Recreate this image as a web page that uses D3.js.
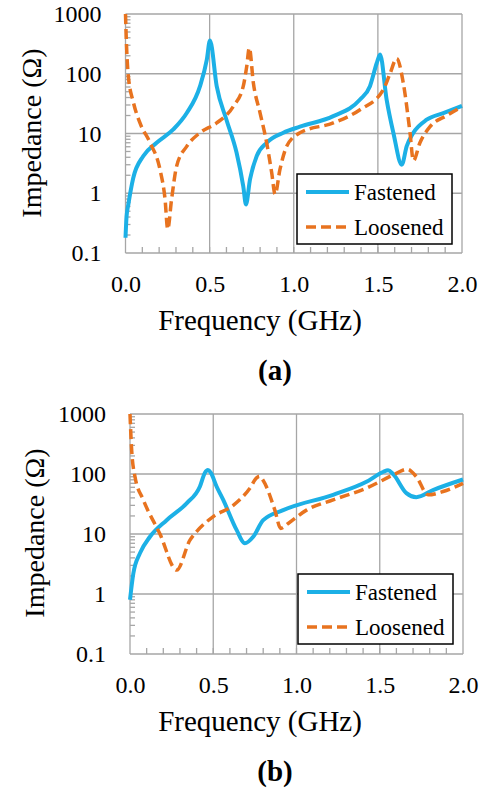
<!DOCTYPE html>
<html>
<head>
<meta charset="utf-8">
<script src="https://cdn.jsdelivr.net/npm/d3@7"></script>
<style>
  body { margin: 0; background: #fff; }
  .grid line { stroke: #a6a6a6; stroke-width: 1.3; }
  .axis path { display: none; }
  .axis text { font-size: 24px; fill: #000; }
</style>
</head>
<body>
<script>
var freqTicks = [0, 0.5, 1, 1.5, 2];
var impTicks = [0.1, 1, 10, 100, 1000];
var seriesNames = ["Fastened", "Loosened"];
var panelLabels = ["(a)", "(b)"];

// [frequency GHz, impedance ohm]
var aFastened = [[0,0.18],[0.006,0.4],[0.017,0.65],[0.046,1.8],[0.106,4.2],[0.185,7],[0.284,11.7],[0.364,22],[0.443,62],
  [0.483,170],[0.502,360],[0.542,62],[0.6,17],[0.66,4.8],[0.7,1.3],[0.716,0.65],[0.74,1.7],[0.78,4.2],[0.839,7],
  [0.938,10.3],[1.037,13],[1.235,19.5],[1.394,37],[1.453,62],[1.493,150],[1.513,210],[1.552,37],[1.592,10.3],
  [1.642,3.0],[1.671,6.1],[1.711,10.3],[1.79,17],[1.889,22],[2.0,29]];
var aLoosened = [[0,1000],[0.006,300],[0.017,90],[0.046,34],[0.086,15],[0.146,7],[0.205,2.5],[0.235,0.8],[0.251,0.25],
  [0.274,0.8],[0.304,2.85],[0.364,6.1],[0.443,10.3],[0.542,15],[0.641,28.5],[0.7,62],[0.72,130],[0.736,270],[0.76,70],
  [0.8,22],[0.839,7],[0.869,2.2],[0.889,0.96],[0.918,2.5],[0.958,6.1],[1.037,10.3],[1.235,15],[1.394,25],[1.532,54],
  [1.572,100],[1.612,180],[1.651,70],[1.691,10.3],[1.711,3.5],[1.75,7],[1.81,13],[1.91,20],[2.0,28]];
var bFastened = [[0,0.8],[0.02,2.2],[0.06,4.8],[0.12,9],[0.22,17],[0.34,32.5],[0.42,62],[0.45,105],[0.468,117],
  [0.485,105],[0.52,62],[0.56,37],[0.64,11.7],[0.69,7],[0.74,9],[0.8,17],[0.92,25],[1.22,45],[1.42,74],[1.52,108],
  [1.55,115],[1.58,100],[1.66,48],[1.72,41],[1.82,54],[2.0,81]];
var bLoosened = [[0,1000],[0.01,250],[0.03,90],[0.08,37],[0.18,10],[0.28,2.5],[0.36,7.9],[0.4,11],[0.5,19.5],
  [0.62,30],[0.72,58],[0.76,86],[0.778,92],[0.8,78],[0.87,25],[0.905,12.4],[0.95,15],[1.06,25],[1.22,37],[1.42,58],
  [1.58,96],[1.665,120],[1.72,90],[1.79,45],[1.88,51],[2.0,70]];

var colors = ["#1cb0e6", "#e8731f"];
var serif = "'Liberation Serif', 'DejaVu Serif', serif";

var svg = d3.select("body").append("svg")
    .attr("width", 482)
    .attr("height", 791)
    .attr("font-family", serif);

var panels = [
  {left: 125.5, top: 14, width: 336.5, height: 239, series: [aFastened, aLoosened], legend: [297, 174], ytitle: 41},
  {left: 130, top: 414, width: 333, height: 240, series: [bFastened, bLoosened], legend: [298, 574], ytitle: 44}
];

panels.forEach(function(p, pi) {
  var g = svg.append("g").attr("transform", "translate(" + p.left + "," + p.top + ")");

  var x = d3.scaleLinear().domain([0, 2]).range([0, p.width]);
  var y = d3.scaleLog().domain([0.1, 1000]).range([p.height, 0]);

  // grid
  g.append("g").attr("class", "grid")
    .selectAll("line.h").data(impTicks).enter().append("line")
    .attr("x1", 0).attr("x2", p.width)
    .attr("y1", function(d) { return y(d); }).attr("y2", function(d) { return y(d); });
  g.select(".grid")
    .selectAll("line.v").data(freqTicks).enter().append("line")
    .attr("y1", 0).attr("y2", p.height)
    .attr("x1", function(d) { return x(d); }).attr("x2", function(d) { return x(d); });

  // minor ticks
  var minorY = [];
  [0.1, 1, 10, 100].forEach(function(dec) {
    for (var k = 2; k <= 9; k++) minorY.push(dec * k);
  });
  g.append("g").attr("class", "grid")
    .selectAll("line").data(minorY).enter().append("line")
    .attr("x1", 0).attr("x2", 5)
    .attr("y1", function(d) { return y(d); }).attr("y2", function(d) { return y(d); });
  g.append("g").attr("class", "grid")
    .selectAll("line").data(d3.range(1, 20).map(function(i) { return i / 10; })).enter().append("line")
    .attr("y1", p.height).attr("y2", p.height - 6)
    .attr("x1", function(d) { return x(d); }).attr("x2", function(d) { return x(d); });

  // axes
  g.append("g").attr("class", "axis")
    .attr("transform", "translate(0," + p.height + ")")
    .call(d3.axisBottom(x).tickValues(freqTicks).tickSize(0).tickPadding(22).tickFormat(d3.format(".1f")))
    .attr("font-family", serif).attr("font-size", null);
  g.append("g").attr("class", "axis")
    .call(d3.axisLeft(y).tickValues(impTicks).tickSize(0).tickPadding(24)
      .tickFormat(function(d) { return d < 1 ? "0.1" : d3.format("d")(d); }))
    .attr("font-family", serif).attr("font-size", null);

  // lines
  var line = d3.line()
    .x(function(d) { return x(d[0]); })
    .y(function(d) { return y(d[1]); })
    .curve(d3.curveMonotoneX);

  p.series.forEach(function(s, si) {
    g.append("path")
      .datum(s)
      .attr("fill", "none")
      .attr("stroke", colors[si])
      .attr("stroke-width", si === 0 ? 4 : 3.5)
      .attr("stroke-dasharray", si === 0 ? null : "10,5")
      .attr("stroke-linejoin", "round")
      .attr("d", line);
  });

  // axis titles
  svg.append("text")
    .attr("x", 260).attr("y", p.top + p.height + 77)
    .attr("text-anchor", "middle")
    .attr("font-size", 29)
    .text("Frequency (GHz)");
  svg.append("text")
    .attr("transform", "translate(" + p.ytitle + "," + (p.top + 119) + ") rotate(-90)")
    .attr("text-anchor", "middle")
    .attr("font-size", 28)
    .text("Impedance (\u03A9)");
  svg.append("text")
    .attr("x", 275).attr("y", p.top + p.height + 127)
    .attr("text-anchor", "middle")
    .attr("font-size", 29)
    .attr("font-weight", "bold")
    .text(panelLabels[pi]);

  // legend
  var lg = svg.append("g").attr("transform", "translate(" + p.legend[0] + "," + p.legend[1] + ")");
  lg.append("rect")
    .attr("width", 155).attr("height", 70)
    .attr("fill", "#fff").attr("stroke", "#000").attr("stroke-width", 1.5);
  seriesNames.forEach(function(name, si) {
    var ly = 18 + si * 35;
    lg.append("line")
      .attr("x1", 9).attr("x2", 52).attr("y1", ly).attr("y2", ly)
      .attr("stroke", colors[si])
      .attr("stroke-width", si === 0 ? 4 : 3.5)
      .attr("stroke-dasharray", si === 0 ? null : "10,5");
    lg.append("text")
      .attr("x", 57).attr("y", ly).attr("dy", "0.35em")
      .attr("font-size", 23)
      .text(name);
  });
});
</script>
</body>
</html>
